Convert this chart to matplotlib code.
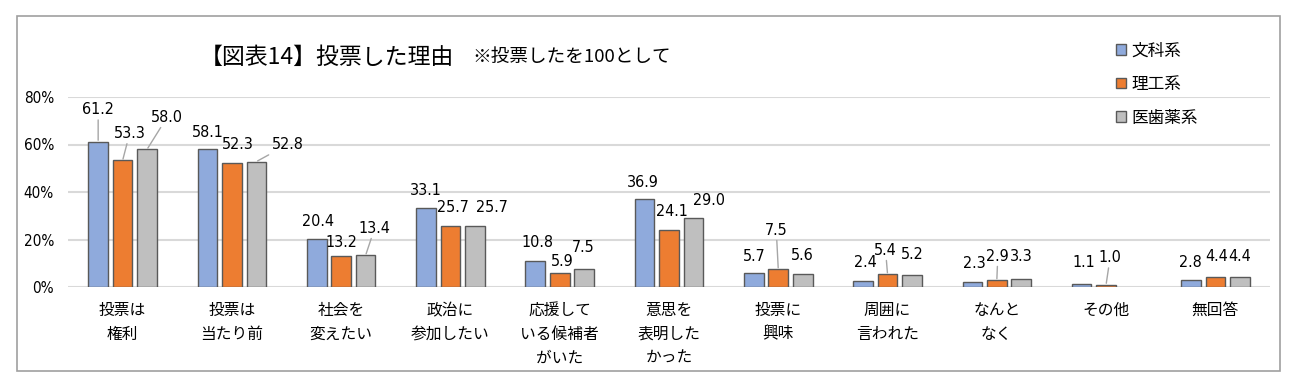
import numpy as np
import matplotlib
matplotlib.use('Agg')
import matplotlib.pyplot as plt
from matplotlib.patches import Rectangle
from matplotlib import font_manager

plt.rcParams['font.family'] = ['Noto Sans CJK JP', 'DejaVu Sans']

# data
categories = ['投票は\n権利', '投票は\n当たり前', '社会を\n変えたい', '政治に\n参加したい',
              '応援して\nいる候補者\nがいた', '意思を\n表明した\nかった', '投票に\n興味',
              '周囲に\n言われた', 'なんと\nなく', 'その他', '無回答']
series_names = ['文科系', '理工系', '医歯薬系']
bunka = [61.2, 58.1, 20.4, 33.1, 10.8, 36.9, 5.7, 2.4, 2.3, 1.1, 2.8]
riko = [53.3, 52.3, 13.2, 25.7, 5.9, 24.1, 7.5, 5.4, 2.9, 1.0, 4.4]
ishi = [58.0, 52.8, 13.4, 25.7, 7.5, 29.0, 5.6, 5.2, 3.3, np.nan, 4.4]
yticks = [0, 20, 40, 60, 80]

colors = ['#8faadc', '#ed7d31', '#bfbfbf']

# label offsets in pixels (dx, dy, leader line)
offsets = [
    [(0, 32, True), (7, 27, True), (20, 32, True)],
    [(0, 17, False), (6, 18, False), (31, 17, True)],
    [(1, 17, False), (0, 13, False), (9, 27, True)],
    [(0, 18, False), (2, 18, False), (17, 18, False)],
    [(2, 19, False), (3, 11, False), (-1, 22, False)],
    [(-2, 17, False), (3, 18, False), (16, 18, False)],
    [(1, 17, False), (-2, 39, True), (0, 18, False)],
    [(2, 19, False), (-2, 24, True), (0, 20, False)],
    [(2, 18, False), (1, 24, True), (0, 23, False)],
    [(2, 22, False), (4, 27, True), (0, 0, False)],
    [(-1, 18, False), (1, 20, False), (0, 20, False)],
]

# condensed face for the numbers
num_prop = font_manager.FontProperties(family='DejaVu Sans', stretch='condensed', size=11.5)

fig = plt.figure(figsize=(13, 3.91), dpi=100)
fig.patches.append(Rectangle((17 / 1300, 1 - 371 / 391), (1280 - 17) / 1300, (371 - 16) / 391,
                             transform=fig.transFigure, fill=False, edgecolor='#a0a0a0', lw=1.2))
ax = fig.add_axes([68 / 1300, 1 - 287 / 391, (1270 - 68) / 1300, (287 - 97) / 391])

x = np.arange(len(categories))
w = 0.18
step = 0.224
for k, vals in enumerate([bunka, riko, ishi]):
    pos = x + (k - 1) * step
    ax.bar(pos, vals, width=w, color=colors[k], edgecolor='#595959', lw=1.0,
           label=series_names[k], zorder=3)
    for i, v in enumerate(vals):
        if np.isnan(v):
            continue
        dx, dy, leader = offsets[i][k]
        ap = dict(arrowstyle='-', color='#a6a6a6', lw=1.0, shrinkA=0, shrinkB=1) if leader else None
        ax.annotate('%.1f' % v, xy=(pos[i], v), xytext=(dx, dy), textcoords='offset pixels',
                    ha='center', va='center', fontproperties=num_prop,
                    arrowprops=ap, zorder=4)

ax.set_xlim(-0.5, len(categories) - 0.5)
ax.set_ylim(0, 80)
ax.set_yticks(yticks)
ax.set_yticklabels(['%d%%' % t for t in yticks])
for lab in ax.get_yticklabels():
    lab.set_fontproperties(font_manager.FontProperties(family='DejaVu Sans', stretch='condensed', size=11))
ax.set_xticks(x)
ax.set_xticklabels(categories, fontsize=11.3, linespacing=1.5, va='top')
ax.tick_params(length=0)
ax.tick_params(axis='x', pad=11)
ax.tick_params(axis='y', pad=10)
ax.grid(axis='y', color='#d9d9d9', lw=1.5, zorder=0)
for s in ax.spines.values():
    s.set_visible(False)

fig.text(200 / 1300, 1 - 57 / 391, '【図表14】投票した理由', fontsize=16.5, va='center', ha='left')
fig.text(472 / 1300, 1 - 57 / 391, '※投票したを100として', fontsize=13.4, va='center', ha='left')

leg = fig.legend(loc='upper left', bbox_to_anchor=(1108 / 1300, 1 - 34 / 391), frameon=False,
                 fontsize=12, handlelength=0.6, handleheight=0.6, handletextpad=0.3,
                 labelspacing=1.0, borderpad=0)

fig.savefig('out.png', dpi=100)
